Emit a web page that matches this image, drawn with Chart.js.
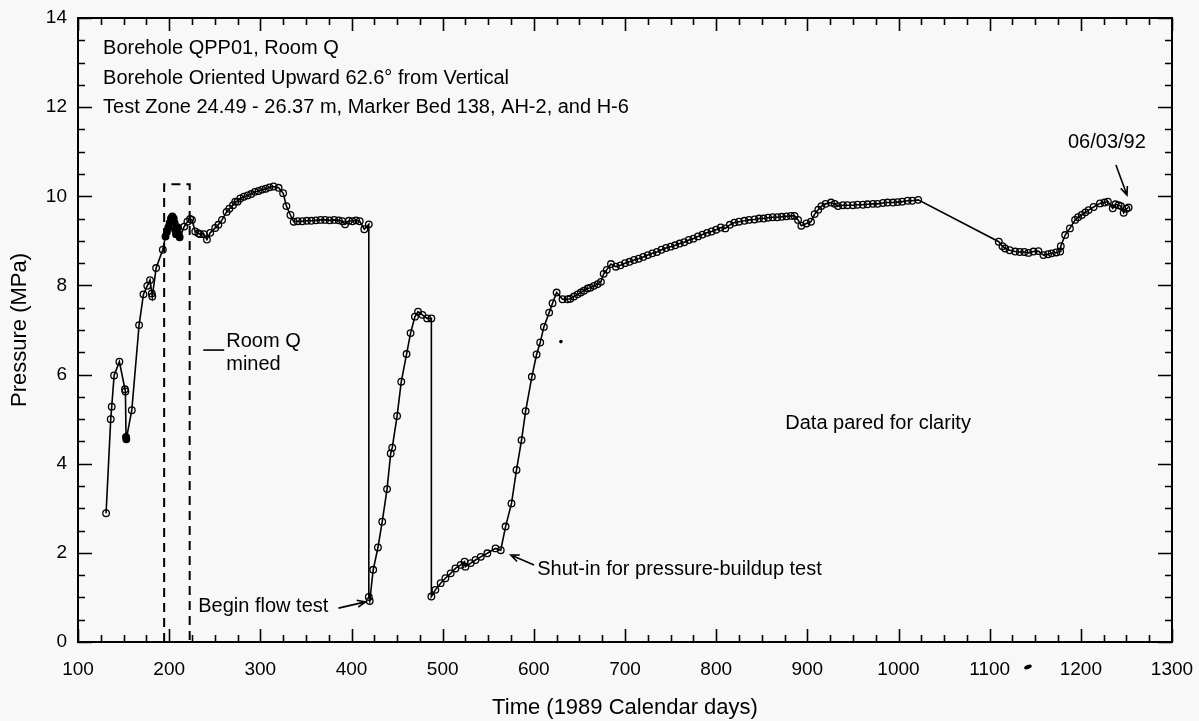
<!DOCTYPE html>
<html>
<head>
<meta charset="utf-8">
<script src="https://cdn.jsdelivr.net/npm/chart.js@4.4.1/dist/chart.umd.min.js"></script>
<style>
  html, body { margin: 0; padding: 0; background: #f8f8f8; }
  #wrap { width: 1199px; height: 721px; }
</style>
</head>
<body>
<div id="wrap"><canvas id="myChart" width="1199" height="721"></canvas></div>
<script>
// readings from the plot: time (1989 calendar days) and pressure (MPa)
const timeDays = [
  130.8, 135.9, 137, 139.6, 145.4, 151.5, 152, 152.7, 153, 159,
  167, 171.8, 176, 179, 181, 181.5, 185.7, 193,
  196, 197.5, 199, 200.5, 202, 203.5, 205, 206, 206.5, 207.5, 208.5, 209.5, 210.5, 211.5,
  216.5, 220, 223, 225, 228.6, 232, 234, 238, 241.4, 245, 250.5, 254, 258, 263, 266, 270,
  272.5, 275, 278, 282, 286, 290, 294, 298, 302, 306, 310, 314.6, 320, 325, 328.6, 333,
  336.6, 341, 346, 351, 356, 361, 366, 371, 376, 381, 386, 390, 393, 397, 401, 405, 409,
  414, 419, 419, 420,
  423.8, 429, 433.7, 439, 443, 444.7, 450, 454.6, 460.4, 464.8, 469.6, 473, 477.7, 483, 487.6,
  487.6, 492, 497.8, 503, 508.8, 514, 519.8, 524, 525, 530.8, 536, 541.8, 549, 558, 563.7,
  569, 575.5, 581, 586.5, 591, 597.8, 603, 607, 611, 616.8, 620.5, 625,
  631.5, 637, 640, 644, 648, 651.6, 655, 659, 662, 666, 670, 673.6, 676.6, 680, 684.6,
  690, 695, 700, 705, 710, 715, 720, 725, 730, 735, 740, 745, 750, 755, 760, 765, 770,
  775, 780, 785, 790, 795, 800, 805, 810, 815, 820, 825, 831, 836, 842, 847, 852, 857,
  862, 867, 872, 877, 882, 886, 889.8, 893.4, 899, 904, 908, 912, 915.4, 920, 926, 930,
  933.7, 939, 944, 950, 955, 961, 966, 972, 977, 983, 988, 994, 999, 1004, 1010, 1015, 1021.6,
  1110, 1114, 1117, 1122, 1128, 1133, 1138, 1142.5, 1148, 1153.5, 1159, 1164, 1168, 1173,
  1177.3, 1178, 1182.8, 1188, 1193.7, 1197, 1201, 1205, 1208.5, 1214, 1221, 1226, 1229.7,
  1235, 1238, 1241.4, 1244, 1247, 1250, 1252.4
];
const pressureMPa = [
  2.89, 5.0, 5.28, 5.98, 6.29, 5.67, 5.62, 4.6, 4.55, 5.2,
  7.11, 7.8, 7.99, 8.12, 7.82, 7.75, 8.39, 8.8,
  9.1, 9.2, 9.3, 9.4, 9.5, 9.55, 9.5, 9.4, 9.25, 9.15, 9.2, 9.3, 9.15, 9.08,
  9.32, 9.43, 9.49, 9.47, 9.21, 9.17, 9.15, 9.15, 9.03, 9.18, 9.29, 9.36, 9.47, 9.65, 9.72, 9.8,
  9.88, 9.88, 9.95, 9.99, 10.02, 10.05, 10.1, 10.12, 10.15, 10.17, 10.2, 10.22, 10.19, 10.07, 9.78, 9.58,
  9.43, 9.44, 9.44, 9.45, 9.45, 9.46, 9.47, 9.47, 9.46, 9.47, 9.46, 9.44, 9.37, 9.45, 9.44, 9.46, 9.44,
  9.26, 9.37, 1.01, 0.92,
  1.62, 2.12, 2.7, 3.43, 4.23, 4.36, 5.07, 5.84, 6.46, 6.93, 7.3, 7.41, 7.34, 7.26, 7.26,
  1.02, 1.17, 1.32, 1.43, 1.54, 1.65, 1.73, 1.8, 1.69, 1.77, 1.84, 1.91, 1.99, 2.1, 2.06,
  2.59, 3.11, 3.86, 4.53, 5.18, 5.95, 6.45, 6.72, 7.07, 7.39, 7.6, 7.84,
  7.69, 7.69, 7.7, 7.75, 7.8, 7.84, 7.88, 7.93, 7.95, 7.99, 8.03, 8.08, 8.26, 8.35, 8.48,
  8.42, 8.45, 8.5, 8.53, 8.57, 8.6, 8.64, 8.68, 8.72, 8.75, 8.8, 8.84, 8.87, 8.9, 8.94, 8.97, 9.02,
  9.05, 9.1, 9.14, 9.18, 9.21, 9.25, 9.3, 9.28, 9.36, 9.41, 9.43, 9.45, 9.47, 9.48, 9.5, 9.5, 9.52,
  9.53, 9.53, 9.54, 9.55, 9.56, 9.56, 9.47, 9.34, 9.39, 9.43, 9.6, 9.7, 9.78, 9.83, 9.86, 9.83,
  9.78, 9.8, 9.8, 9.8, 9.81, 9.81, 9.82, 9.83, 9.83, 9.85, 9.86, 9.86, 9.87, 9.88, 9.9, 9.9, 9.92,
  8.98, 8.88, 8.83, 8.79, 8.76, 8.75, 8.75, 8.73, 8.76, 8.77, 8.68, 8.7, 8.72, 8.74,
  8.76, 8.88, 9.13, 9.28, 9.47, 9.53, 9.58, 9.64, 9.69, 9.76, 9.84, 9.86, 9.88,
  9.73, 9.82, 9.8, 9.78, 9.63, 9.72, 9.75
];
// readings drawn as filled (solid) markers: [fromDay, toDay]
const filledSpans = [[152.5, 153.5], [195.5, 212]];

const xTicks = [100, 200, 300, 400, 500, 600, 700, 800, 900, 1000, 1100, 1200, 1300];
const yTicks = [0, 2, 4, 6, 8, 10, 12, 14];

// dashed box round the Room Q mining period
const miningBoxDays = [194.5, 222.5];
const miningBoxTop = 10.27;

const infoLines = [
  'Borehole QPP01, Room Q',
  'Borehole Oriented Upward 62.6\u00B0 from Vertical',
  'Test Zone 24.49 - 26.37 m, Marker Bed 138, AH-2, and H-6'
];

const FONT = "'Liberation Sans', Arial, sans-serif";

const points = timeDays.map((t, i) => ({ x: t, y: pressureMPa[i] }));

function isFilled(x) {
  return filledSpans.some(s => x >= s[0] && x <= s[1]);
}

function arrow(ctx, x1, y1, x2, y2) {
  const a = Math.atan2(y2 - y1, x2 - x1);
  const h = 9;
  ctx.beginPath();
  ctx.moveTo(x1, y1);
  ctx.lineTo(x2, y2);
  ctx.moveTo(x2 - h * Math.cos(a - 0.4), y2 - h * Math.sin(a - 0.4));
  ctx.lineTo(x2, y2);
  ctx.lineTo(x2 - h * Math.cos(a + 0.4), y2 - h * Math.sin(a + 0.4));
  ctx.stroke();
}

const bgPlugin = {
  id: 'bg',
  beforeDraw(chart) {
    const c = chart.ctx;
    c.save();
    c.fillStyle = '#f8f8f8';
    c.fillRect(0, 0, chart.width, chart.height);
    c.restore();
  }
};

const framePlugin = {
  id: 'frame',
  afterDraw(chart) {
    const c = chart.ctx;
    const { left, right, top, bottom } = chart.chartArea;
    const xs = chart.scales.x, ys = chart.scales.y;
    c.save();
    c.strokeStyle = '#000';
    c.lineWidth = 2;
    c.strokeRect(left, top, right - left, bottom - top);

    // inward ticks, every 25 days and every 0.5 MPa
    c.lineWidth = 1.6;
    c.beginPath();
    for (let v = xs.min; v <= xs.max; v += 25) {
      const px = Math.round(xs.getPixelForValue(v)) + 0.5;
      const len = v % 100 === 0 ? 13 : 7;
      c.moveTo(px, bottom); c.lineTo(px, bottom - len);
      c.moveTo(px, top); c.lineTo(px, top + len);
    }
    for (let v = ys.min; v <= ys.max; v += 0.5) {
      const py = Math.round(ys.getPixelForValue(v)) + 0.5;
      const len = v % 2 === 0 ? 14 : 7;
      c.moveTo(left, py); c.lineTo(left + len, py);
      c.moveTo(right, py); c.lineTo(right - len, py);
    }
    c.stroke();

    // dashed box
    c.setLineDash([9, 6]);
    c.lineWidth = 2;
    c.beginPath();
    const bx1 = xs.getPixelForValue(miningBoxDays[0]);
    const bx2 = xs.getPixelForValue(miningBoxDays[1]);
    const by = ys.getPixelForValue(miningBoxTop);
    c.moveTo(bx1, bottom); c.lineTo(bx1, by); c.lineTo(bx2, by); c.lineTo(bx2, bottom);
    c.stroke();
    c.setLineDash([]);

    // text notes
    c.fillStyle = '#000';
    c.font = '20px ' + FONT;
    c.textBaseline = 'alphabetic';
    c.textAlign = 'left';
    const infoX = xs.getPixelForValue(127.5);
    [13.19, 12.53, 11.87].forEach((p, i) => {
      c.fillText(infoLines[i], infoX, ys.getPixelForValue(p));
    });

    c.fillText('Room Q', xs.getPixelForValue(262.6), ys.getPixelForValue(6.62));
    c.fillText('mined', xs.getPixelForValue(262.6), ys.getPixelForValue(6.1));
    c.lineWidth = 1.6;
    c.beginPath();
    c.moveTo(xs.getPixelForValue(237.4), ys.getPixelForValue(6.55));
    c.lineTo(xs.getPixelForValue(260.4), ys.getPixelForValue(6.55));
    c.stroke();

    c.textBaseline = 'middle';
    c.fillText('Begin flow test', xs.getPixelForValue(231.9), ys.getPixelForValue(0.79));
    arrow(c, xs.getPixelForValue(385.7), ys.getPixelForValue(0.76), xs.getPixelForValue(415.4), ys.getPixelForValue(0.9));

    c.fillText('Shut-in for pressure-buildup test', xs.getPixelForValue(603.7), ys.getPixelForValue(1.62));
    arrow(c, xs.getPixelForValue(600.3), ys.getPixelForValue(1.73), xs.getPixelForValue(574.7), ys.getPixelForValue(1.95));

    c.fillText('Data pared for clarity', xs.getPixelForValue(875.8), ys.getPixelForValue(4.91));

    c.textAlign = 'center';
    c.fillText('06/03/92', xs.getPixelForValue(1228.6), ys.getPixelForValue(11.2));
    arrow(c, xs.getPixelForValue(1238.5), ys.getPixelForValue(10.7), xs.getPixelForValue(1250.6), ys.getPixelForValue(10.03));

    // specks in the scan
    c.beginPath();
    c.arc(xs.getPixelForValue(629.7), ys.getPixelForValue(6.74), 1.8, 0, Math.PI * 2);
    c.fill();
    c.beginPath();
    c.ellipse(xs.getPixelForValue(1142), ys.getPixelForValue(-0.56), 4, 2, -0.4, 0, Math.PI * 2);
    c.fill();
    c.restore();
  }
};

const ctx = document.getElementById('myChart').getContext('2d');
const myChart = new Chart(ctx, {
  type: 'scatter',
  data: {
    datasets: [{
      label: 'Pressure',
      data: points,
      showLine: true,
      borderColor: '#000',
      borderWidth: 1.6,
      tension: 0,
      pointRadius: 3.3,
      pointBorderWidth: 1.3,
      pointBorderColor: '#000',
      pointBackgroundColor: c => (c.raw && isFilled(c.raw.x)) ? '#000' : 'rgba(0,0,0,0)'
    }]
  },
  options: {
    responsive: false,
    animation: false,
    layout: { padding: { left: 0, right: 27, top: 18, bottom: 0 } },
    plugins: {
      legend: { display: false },
      tooltip: { enabled: false }
    },
    scales: {
      x: {
        type: 'linear',
        min: xTicks[0],
        max: xTicks[xTicks.length - 1],
        afterFit: s => { s.height = 79; s.paddingLeft = 0; s.paddingRight = 0 },
        afterBuildTicks: s => { s.ticks = xTicks.map(v => ({ value: v })) },
        grid: { display: false, drawTicks: false },
        border: { display: false },
        ticks: { padding: 16, color: '#000', maxRotation: 0, autoSkip: false, callback: v => String(v), font: { family: FONT, size: 19 } },
        title: { display: true, text: 'Time (1989 Calendar days)', color: '#000', padding: { top: 0, bottom: 0 }, font: { family: FONT, size: 22 } }
      },
      y: {
        type: 'linear',
        min: yTicks[0],
        max: yTicks[yTicks.length - 1],
        afterFit: s => { s.width = 78; s.paddingTop = 0; s.paddingBottom = 0 },
        afterBuildTicks: s => { s.ticks = yTicks.map(v => ({ value: v })) },
        grid: { display: false, drawTicks: false },
        border: { display: false },
        ticks: { padding: 11, color: '#000', autoSkip: false, callback: v => String(v), font: { family: FONT, size: 19 } },
        title: { display: true, text: 'Pressure (MPa)', color: '#000', padding: { top: 7, bottom: 0 }, font: { family: FONT, size: 22 } }
      }
    }
  },
  plugins: [bgPlugin, framePlugin]
});
</script>
</body>
</html>
